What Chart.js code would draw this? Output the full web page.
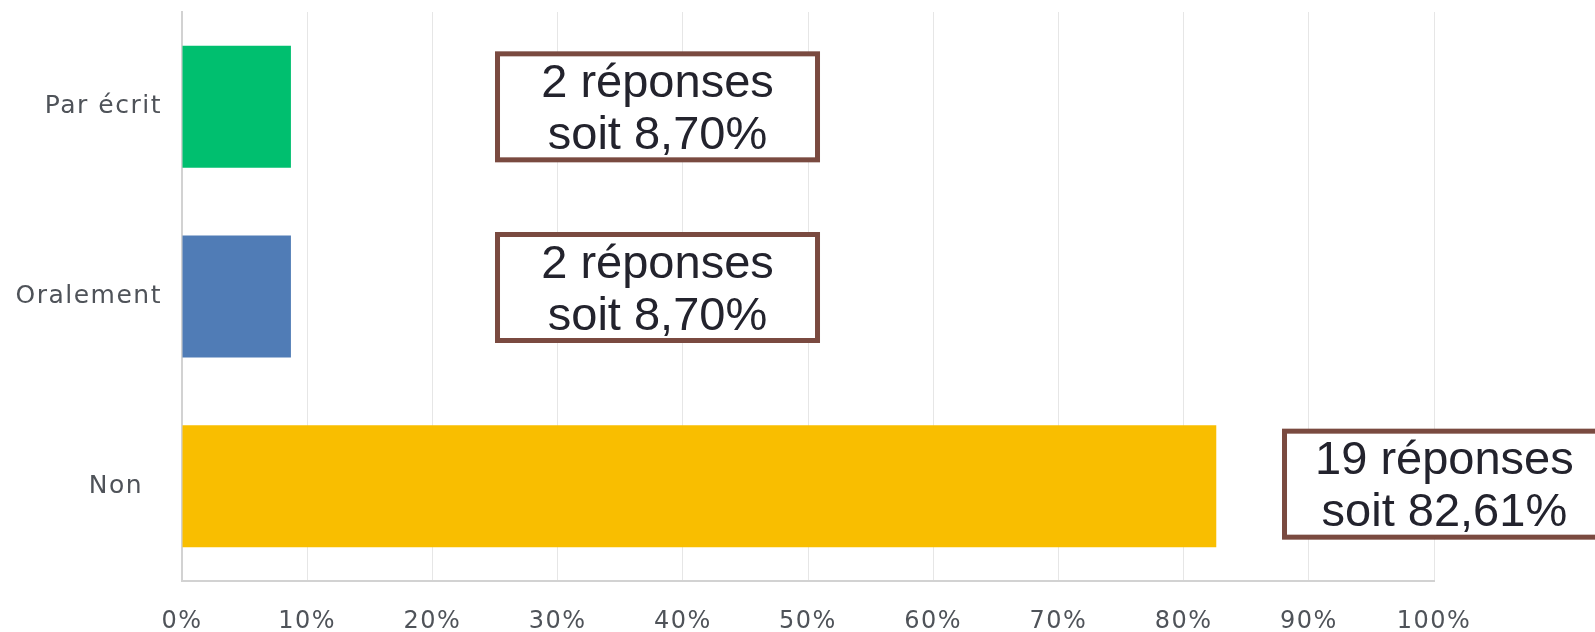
<!DOCTYPE html>
<html>
<head>
<meta charset="utf-8">
<script src="https://cdn.jsdelivr.net/npm/chart.js@4"></script>
<style>
  html, body { margin: 0; padding: 0; background: #fff; }
  #wrap { width: 1595px; height: 632px; position: relative; }
</style>
</head>
<body>
<div id="wrap"><canvas id="chart"></canvas></div>
<script>
  // ---------- data ----------
  const categories = ["Par écrit", "Oralement", "Non  "];
  const percents = [8.70, 8.70, 82.61];
  const counts = [2, 2, 19];
  const barColors = ["#00BF6F", "#507CB6", "#F9BE00"];
  const xTicks = [0, 10, 20, 30, 40, 50, 60, 70, 80, 90, 100];

  // ---------- helpers ----------
  const fmtPct = (v) => v.toFixed(2).replace(".", ",") + "%";

  // boxes with "N réponses / soit X%" (x in axis units, dy in px from bar centre)
  const boxes = [
    { from: 25.2, to: 50.76, dy: 0 },
    { from: 25.2, to: 50.76, dy: -9 },
    { from: 88.06, to: 113.6, dy: -2 },
  ];

  const spacing = {
    id: "spacing",
    beforeDraw(chart) {
      chart.ctx.letterSpacing = "1.5px";
    },
  };

  const answerBoxes = {
    id: "answerBoxes",
    afterDatasetsDraw(chart) {
      const ctx = chart.ctx;
      const xs = chart.scales.x;
      const meta = chart.getDatasetMeta(0);
      ctx.save();
      ctx.letterSpacing = "0px";
      meta.data.forEach((bar, i) => {
        const b = boxes[i];
        const x1 = xs.getPixelForValue(b.from);
        const x2 = xs.getPixelForValue(b.to);
        const cy = bar.y + b.dy;
        const h = 106;
        ctx.fillStyle = "#fff";
        ctx.fillRect(x1, cy - h / 2, x2 - x1, h);
        ctx.lineWidth = 5;
        ctx.strokeStyle = "#7A4A40";
        ctx.strokeRect(x1, cy - h / 2, x2 - x1, h);
        ctx.fillStyle = "#23232d";
        ctx.font = '47px "Liberation Sans", Arial, sans-serif';
        ctx.textAlign = "center";
        ctx.textBaseline = "alphabetic";
        const cx = (x1 + x2) / 2;
        ctx.fillText(counts[i] + " réponses", cx, cy - 10);
        ctx.fillText("soit " + fmtPct(percents[i]), cx, cy + 42);
      });
      ctx.restore();
    },
  };

  new Chart(document.getElementById("chart"), {
    type: "bar",
    data: {
      labels: categories,
      datasets: [
        {
          data: percents,
          backgroundColor: barColors,
          barPercentage: 0.643,
          categoryPercentage: 1,
        },
      ],
    },
    options: {
      indexAxis: "y",
      responsive: true,
      maintainAspectRatio: false,
      animation: false,
      layout: { padding: { top: 12, right: 161, left: 0, bottom: 0 } },
      scales: {
        x: {
          min: 0,
          max: 100,
          afterBuildTicks: (s) => {
            s.ticks = xTicks.map((v) => ({ value: v }));
          },
          afterFit: (s) => {
            s.height = 51;
          },
          ticks: {
            callback: (v) => v + "%",
            color: "#4f5359",
            font: { family: "DejaVu Sans", size: 24 },
            padding: 26,
            maxRotation: 0,
          },
          grid: { color: "#e6e6e6", lineWidth: 1, drawTicks: false },
          border: { color: "#d2d2d2", width: 2 },
        },
        y: {
          afterFit: (s) => {
            s.width = 182;
            s.paddingTop = 0;
            s.paddingBottom = 0;
          },
          ticks: {
            color: "#4f5359",
            font: { family: "DejaVu Sans", size: 25 },
            padding: 20,
          },
          grid: { display: false, drawTicks: false },
          border: { color: "#d2d2d2", width: 2 },
        },
      },
      plugins: {
        legend: { display: false },
        tooltip: { enabled: false },
      },
    },
    plugins: [spacing, answerBoxes],
  });
</script>
</body>
</html>
